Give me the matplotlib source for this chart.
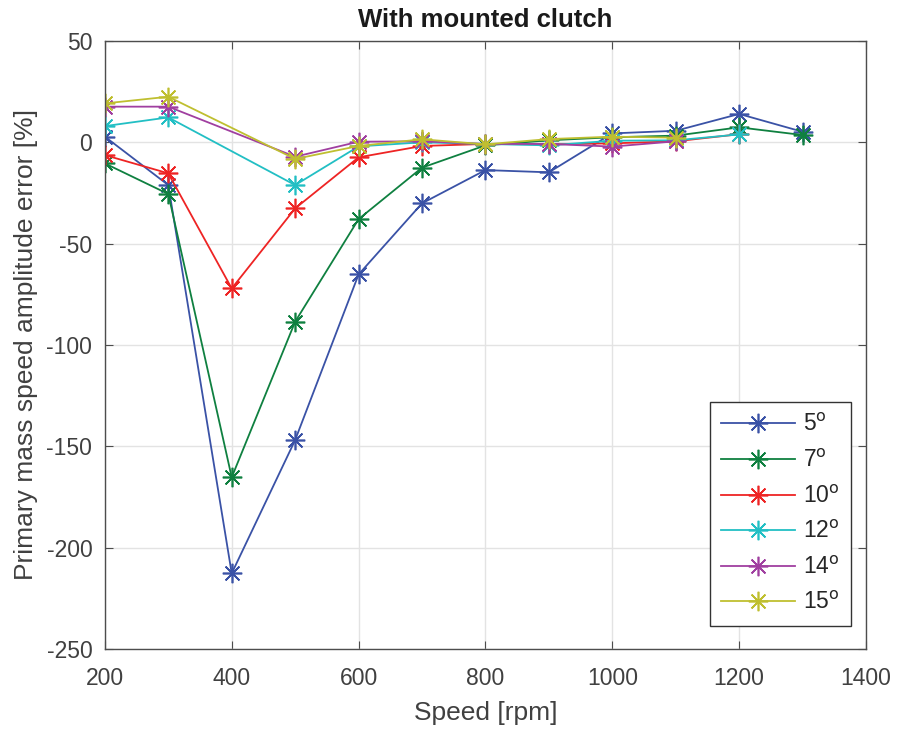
import matplotlib
matplotlib.use("Agg")
import matplotlib.pyplot as plt

plt.rcParams['font.family'] = ['Liberation Sans', 'DejaVu Sans']
plt.rcParams['axes.unicode_minus'] = False

# speed values [rpm]
speed_all = [200, 300, 400, 500, 600, 700, 800, 900, 1000, 1100, 1200, 1300]

# error [%] per angle
err_5 = [2.8, -21.1, -212.7, -146.9, -65.2, -30.1, -13.7, -14.8, 4.4, 5.7, 14.0, 5.2]
err_7 = [-10.4, -25.5, -165.3, -88.5, -37.9, -12.5, -1.5, 1.0, 2.5, 3.3, 7.4, 3.6]
err_10 = [-6.3, -15.3, -72.1, -32.6, -7.4, -1.8, -0.8, -1.0, -0.5, 0.5, 4.0]
err_12 = [8.0, 12.3, None, -21.1, -2.0, 0.0, -0.8, -1.5, 0.8, 1.0, 3.9]
err_14 = [17.6, 17.6, None, -7.1, 0.3, 0.5, -0.8, -0.8, -2.1, 0.5]
err_15 = [19.2, 22.5, None, -8.2, -1.8, 1.5, -1.0, 1.6, 2.8, 2.3]

labels = ['5', '7', '10', '12', '14', '15']
colors = ['#3a52a6', '#0f8040', '#ee2424', '#22bfc4', '#a03fa0', '#bfbf30']
series = [err_5, err_7, err_10, err_12, err_14, err_15]

fig = plt.figure(figsize=(9.04, 7.32), dpi=100)
ax = fig.add_axes([0.116, 0.1134, 0.842, 0.8306])

for vals, lab, col in zip(series, labels, colors):
    xs = [s for s, v in zip(speed_all, vals) if v is not None]
    ys = [v for v in vals if v is not None]
    ax.plot(xs, ys, color=col, linewidth=1.3, marker=(8, 2, 0), markersize=14,
            markeredgewidth=1.2, label=lab + r'$^{\mathrm{o}}$')

ax.set_xlim(200, 1400)
ax.set_ylim(-250, 50)
ax.set_xticks(range(200, 1401, 200))
ax.set_yticks(range(-250, 51, 50))
ax.grid(True, color='#e3e3e3', linewidth=1)
ax.set_axisbelow(True)
ax.tick_params(direction='in', labelsize=16.5, labelcolor='#404040', colors='#4d4d4d',
               length=6, top=True, right=True)
ax.tick_params(axis='x', pad=13)
ax.tick_params(axis='y', pad=9)
for sp in ax.spines.values():
    sp.set_color('#4d4d4d')
    sp.set_linewidth(1.0)

ax.set_xlabel('Speed [rpm]', fontsize=19, color='#404040', labelpad=8)
ax.set_ylabel('Primary mass speed amplitude error [%]', fontsize=19, color='#404040', labelpad=6)
ax.set_title('With mounted clutch', fontsize=18.5, fontweight='bold', color='#1a1a1a', pad=10)

leg = ax.legend(loc='lower right', fontsize=16.5, fancybox=False, edgecolor='#333333',
                framealpha=1, borderpad=0.5, labelspacing=0.55, handlelength=3.2,
                handletextpad=0.35, borderaxespad=0, bbox_to_anchor=(0.980, 0.038))
leg.get_frame().set_linewidth(1.0)
for t in leg.get_texts():
    t.set_color('#262626')

fig.savefig('out.png', dpi=100)
